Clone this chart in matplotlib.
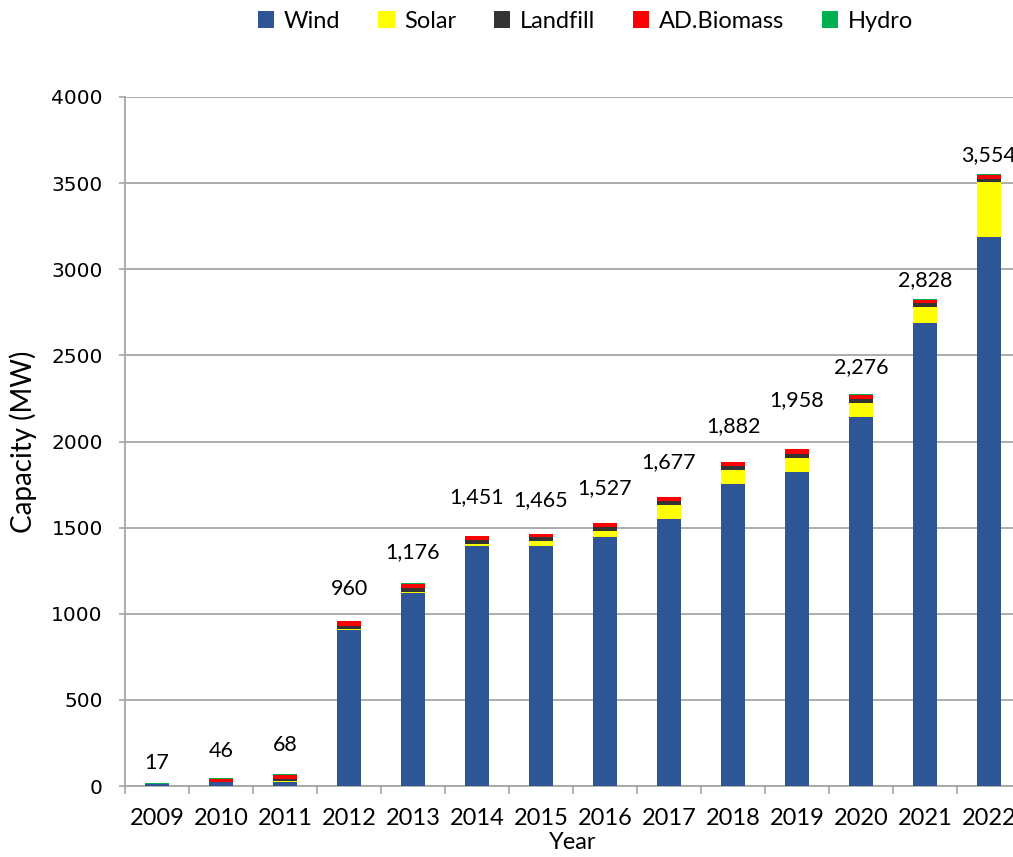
import matplotlib
matplotlib.use("Agg")
import matplotlib.pyplot as plt
import numpy as np

# capacity by source, MW
years = ["2009", "2010", "2011", "2012", "2013", "2014", "2015",
         "2016", "2017", "2018", "2019", "2020", "2021", "2022"]
wind = [10, 22, 25, 906, 1118, 1395, 1395, 1444, 1548, 1752, 1825, 2144, 2690, 3189]
solar = [0, 1, 5, 8, 11, 12, 26, 36, 82, 82, 82, 80, 90, 316]
landfill = [0, 2, 8, 15, 23, 23, 23, 24, 23, 22, 23, 23, 22, 21]
biomass = [2, 17, 24, 27, 22, 19, 19, 21, 22, 24, 24, 25, 22, 24]
hydro = [5, 4, 6, 4, 2, 2, 2, 2, 2, 2, 4, 4, 4, 4]
totals = [17, 46, 68, 960, 1176, 1451, 1465, 1527, 1677, 1882, 1958, 2276, 2828, 3554]

series = [("Wind", wind, "#2F5597"),
          ("Solar", solar, "#FFFF00"),
          ("Landfill", landfill, "#333333"),
          ("AD.Biomass", biomass, "#FF0000"),
          ("Hydro", hydro, "#00B050")]

# label offsets above the bar tops (pixels), as placed in the original
label_gap = [20, 27, 29, 32, 31, 39, 34, 35, 35, 36, 49, 27, 19, 19]

txt_font = ["Lato", "DejaVu Sans"]

fig = plt.figure(figsize=(10.13, 8.57), dpi=100)
ax = fig.add_axes([125 / 1013, 1 - 786 / 857, 896 / 1013, 689 / 857])

x = np.arange(len(years))
bottom = np.zeros(len(years))
handles = []
for name, vals, col in series:
    b = ax.bar(x, vals, width=0.39, bottom=bottom, color=col, label=name,
               edgecolor="none", zorder=3)
    handles.append(b)
    bottom += np.array(vals)

ax.set_xlim(-0.5, len(years) - 0.5)
ax.set_ylim(0, 4000)
ax.set_yticks(np.arange(0, 4001, 500))
ax.yaxis.grid(True, color="#a6a6a6", linewidth=1.3, zorder=0)

for i, t in enumerate(totals):
    ax.annotate(f"{t:,}", (x[i], bottom[i]), xytext=(0, label_gap[i] * 0.72),
                textcoords="offset points", ha="center", va="center",
                fontsize=15.5, family=txt_font)

# category ticks
ax.set_xticks(x)
ax.set_xticklabels(years, family=txt_font, fontsize=17)
ax.set_xticks(np.arange(-0.5, len(years)), minor=True)
ax.tick_params(axis="x", which="major", length=0, pad=16)
ax.tick_params(axis="x", which="minor", length=6, color="#a6a6a6", width=1.2)
ax.tick_params(axis="y", length=4, color="#a6a6a6", width=1.2, pad=12,
               labelsize=14.5)

for s in ["top", "right"]:
    ax.spines[s].set_visible(False)
for s in ["left", "bottom"]:
    ax.spines[s].set_color("#a6a6a6")
    ax.spines[s].set_linewidth(1.3)

ax.set_xlabel("Year", family=txt_font, fontsize=17, labelpad=2)
ax.set_ylabel("Capacity (MW)", family=txt_font, fontsize=20, labelpad=10)

fig.legend(handles=handles, loc="upper center", bbox_to_anchor=(0.578, 1.012),
           ncol=5, frameon=False, handlelength=0.7, handleheight=0.7,
           columnspacing=1.6, handletextpad=0.4,
           prop={"family": txt_font, "size": 17})

fig.savefig("out.png", dpi=100)
